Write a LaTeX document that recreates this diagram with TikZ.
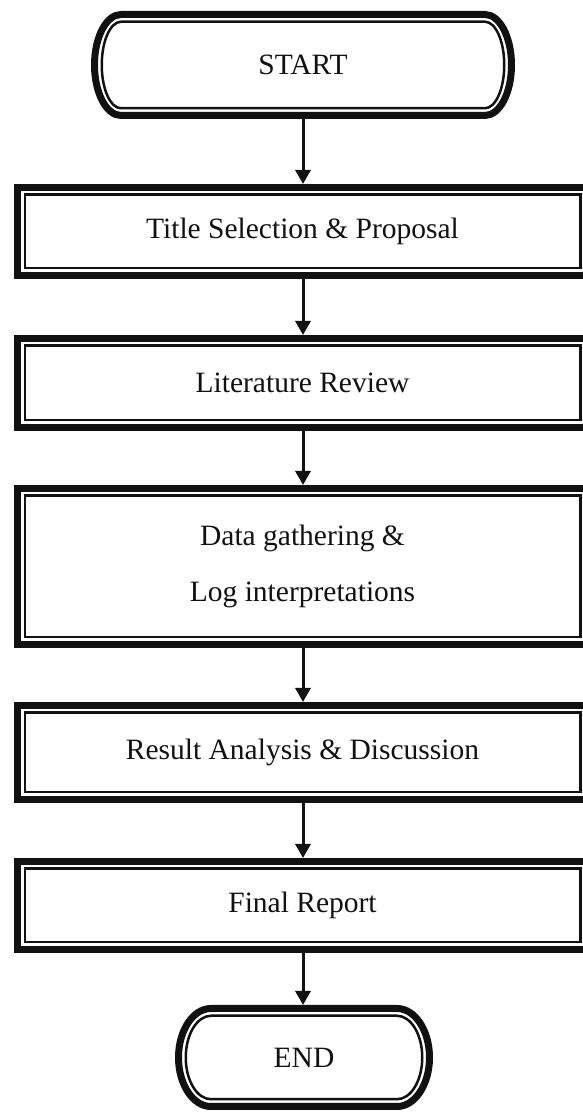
\documentclass[tikz,border=0pt]{standalone}
\usepackage{fontspec}
\setmainfont{Liberation Serif}
\usetikzlibrary{arrows.meta,positioning,calc}
\definecolor{scanblack}{HTML}{111111}

\begin{document}
\begin{tikzpicture}[x=1pt,y=1pt,
    stagebox/.style={inner sep=0pt,outer sep=0pt,minimum width=577pt,
      font=\fontsize{29.5pt}{56pt}\selectfont,align=center,text=scanblack},
    terminal/.style={stagebox,minimum width=#1},
    flowarrow/.style={scanblack,line width=3pt,-{Triangle[width=15pt,length=14pt]}}]
  \clip (0,0) rectangle (583,1112);
  % terminals and process boxes
  \node[terminal=424pt,minimum height=108pt] (start) at (303,1047) {START};
  \node[stagebox,minimum height=95pt] (title) at (302.5,880.5) {Title Selection \& Proposal};
  \node[stagebox,minimum height=96pt] (review) at (302.5,729) {Literature Review};
  \node[stagebox,minimum height=163pt] (data) at (302.5,545.5) {Data gathering \&\\Log interpretations};
  \node[stagebox,minimum height=101pt] (result) at (302.5,359.5) {Result Analysis \& Discussion};
  \node[stagebox,minimum height=95pt] (report) at (302.5,206.5) {Final Report};
  \node[terminal=258pt,minimum height=105pt] (finish) at (304,54.5) {END};
  % thick outer line, thin inner line
  \foreach \n in {title,review,data,result,report}
    \foreach \off/\lw in {3.5/7,10.75/2.5}
      \draw[scanblack,line width=\lw pt] ($(\n.south west)+(\off,\off)$) rectangle ($(\n.north east)-(\off,\off)$);
  \foreach \n/\hh/\rx in {start/54/30,finish/52.5/36}
    \foreach \off/\lw in {3.5/7,10.75/2.5}
      \draw[scanblack,line width=\lw pt] ($(\n.north west)+(\rx,-\off)$) -- ($(\n.north east)+(-\rx,-\off)$)
        arc[start angle=90,end angle=-90,x radius=\rx-\off,y radius=\hh-\off]
        -- ($(\n.south west)+(\rx,\off)$)
        arc[start angle=270,end angle=90,x radius=\rx-\off,y radius=\hh-\off] -- cycle;
  % connectors
  \draw[flowarrow] (start.south) -- (start.south |- title.north);
  \draw[flowarrow] (title.south -| start) -- (review.north -| start);
  \draw[flowarrow] (review.south -| start) -- (data.north -| start);
  \draw[flowarrow] (data.south -| start) -- (result.north -| start);
  \draw[flowarrow] (result.south -| start) -- (report.north -| start);
  \draw[flowarrow] (report.south -| start) -- (finish.north -| start);
\end{tikzpicture}
\end{document}
